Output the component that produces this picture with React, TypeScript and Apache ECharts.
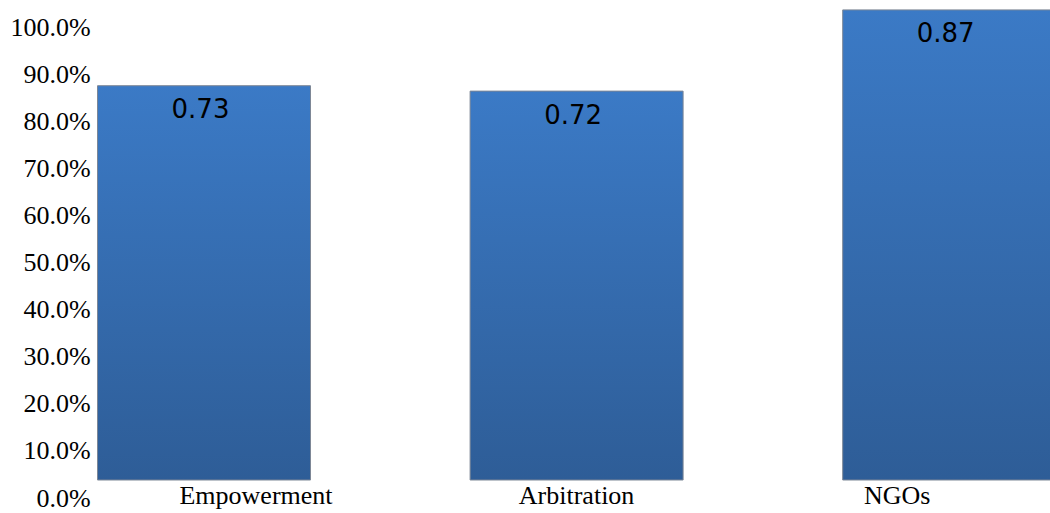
import React, { useEffect, useRef } from "react";
import * as echarts from "echarts";

// Bar categories and their values
const categories = ["Empowerment", "Arbitration", "NGOs"];
const values = [0.73, 0.72, 0.87];

// Percent scale shown on the left
const yTickLabels = [
  "0.0%", "10.0%", "20.0%", "30.0%", "40.0%", "50.0%",
  "60.0%", "70.0%", "80.0%", "90.0%", "100.0%",
];

const SERIF = "'Liberation Serif', 'Times New Roman', serif";
const SANS = "'DejaVu Sans', sans-serif";

export default function App() {
  const ref = useRef<HTMLDivElement>(null);

  useEffect(() => {
    if (!ref.current) return;
    const chart = echarts.init(ref.current, null, { renderer: "svg" });

    chart.setOption({
      animation: false,
      backgroundColor: "#ffffff",
      grid: [
        // bars (the last one runs past the right edge)
        { left: 17.7, width: 1117.8, top: 9.4, bottom: 32.5, containLabel: false, outerBoundsMode: "none" },
        // percent labels
        { left: 95.7, width: 10, top: 27.5, bottom: 15, containLabel: false, outerBoundsMode: "none" },
        // category labels
        { left: 95.7, width: 961.8, top: 9.4, bottom: 32.5, containLabel: false, outerBoundsMode: "none" },
      ],
      xAxis: [
        {
          type: "category",
          gridIndex: 0,
          data: categories,
          axisLine: { show: false },
          axisTick: { show: false },
          axisLabel: { show: false },
        },
        {
          type: "value",
          gridIndex: 1,
          show: false,
        },
        {
          type: "category",
          gridIndex: 2,
          data: categories,
          axisLine: { show: false },
          axisTick: { show: false },
          axisLabel: {
            margin: 2,
            fontFamily: SERIF,
            fontSize: 26,
            color: "#000000",
          },
        },
      ],
      yAxis: [
        {
          type: "value",
          gridIndex: 0,
          min: 0,
          max: 0.87,
          show: false,
          splitLine: { show: false },
        },
        {
          type: "category",
          gridIndex: 1,
          data: yTickLabels,
          boundaryGap: false,
          axisLine: { show: false },
          axisTick: { show: false },
          splitLine: { show: false },
          axisLabel: {
            margin: 5,
            fontFamily: SERIF,
            fontSize: 26,
            color: "#000000",
            align: "right",
          },
        },
        {
          type: "value",
          gridIndex: 2,
          show: false,
        },
      ],
      series: [
        {
          type: "bar",
          xAxisIndex: 0,
          yAxisIndex: 0,
          data: values,
          barWidth: 214,
          itemStyle: {
            color: new echarts.graphic.LinearGradient(0, 0, 0, 1, [
              { offset: 0, color: "#3b7ac6" },
              { offset: 1, color: "#2e5d97" },
            ]),
            borderColor: "#7d8796",
            borderWidth: 1,
          },
          label: {
            show: true,
            position: "insideTop",
            distance: 11,
            offset: [-3.5, 0],
            fontFamily: SANS,
            fontSize: 26,
            color: "#000000",
            formatter: (p: any) => String(p.value),
          },
        },
      ],
    });

    return () => chart.dispose();
  }, []);

  return (
    <div
      ref={ref}
      style={{ position: "absolute", left: 0, top: 0, width: 1050, height: 513 }}
    />
  );
}
